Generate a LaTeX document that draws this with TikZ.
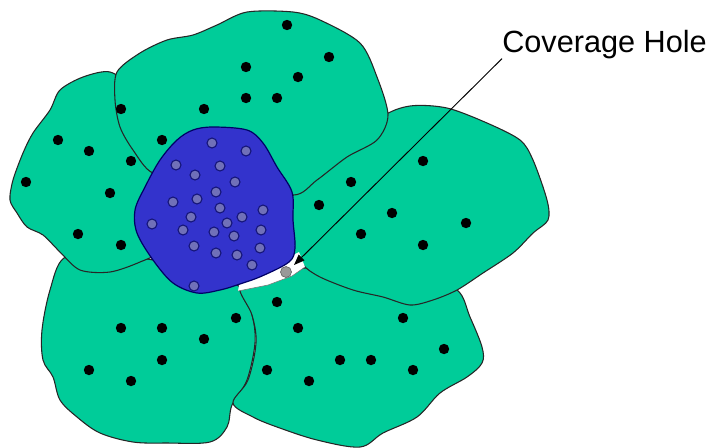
\documentclass[tikz,border=0pt]{standalone}
\usepackage{fontspec}
\setmainfont{Liberation Sans}
\usetikzlibrary{arrows.meta}
\definecolor{petal}{RGB}{0,204,153}
\definecolor{blob}{RGB}{51,51,204}
\definecolor{sensorin}{RGB}{112,112,184}
\definecolor{sensorline}{RGB}{20,20,120}
\tikzset{
  petalshape/.style={fill=petal, draw=black!85, line width=0.8pt, line join=round},
  blobshape/.style={fill=blob, draw=black!60!blue, line width=0.9pt},
  node dot/.style={fill=black},
  inner sensor/.style={fill=sensorin, draw=sensorline, line width=0.8pt},
}
\begin{document}
\begin{tikzpicture}[x=0.75pt,y=-0.75pt]
\useasboundingbox (0,0) rectangle (712,447);
% bottom-left petal
\draw[petalshape] plot[smooth cycle, tension=0.55] coordinates {
 (64,258) (50,290) (42,330) (43,360) (53,377) (60,400) (77,417) (100,433) (133,442) (167,443) (210,442) (227,427) (232,405)
 (247,380) (255,343) (252,315) (240,287) (190,268) (140,258) (100,256)};
% bottom-right petal
\draw[petalshape] plot[smooth cycle, tension=0.55] coordinates {
 (240,287) (252,315) (256,343) (248,380) (233,403) (253,417) (277,427) (317,440) (360,447) (383,433) (417,417) (440,393)
 (467,377) (482,363) (482,347) (470,317) (457,290) (420,280) (360,268) (305,268) (270,282)};
% right petal
\draw[petalshape] plot[smooth cycle, tension=0.5] coordinates {
 (410,106) (447,108) (487,123) (520,140) (533,160) (547,200) (548,220) (533,233) (513,253) (483,273) (457,290) (433,300)
 (410,305) (383,297) (353,290) (320,277) (302,264) (288,240) (290,200) (330,160) (380,118)};
% left petal
\draw[petalshape] plot[smooth cycle, tension=0.5] coordinates {
 (110,72) (83,77) (60,90) (50,110) (33,133) (23,153) (13,180) (10,200) (17,213) (27,227) (43,235) (60,252) (80,270)
 (110,272) (140,262) (160,250) (175,210) (155,150) (130,90)};
% top petal
\draw[petalshape] plot[smooth cycle, tension=0.5] coordinates {
 (117,72) (140,53) (167,40) (193,35) (217,25) (247,12) (293,12) (320,20) (360,43) (377,77) (388,115) (377,140) (347,157)
 (317,180) (293,195) (240,178) (190,172) (153,173) (133,150) (120,127) (115,100)};
% coverage hole
\fill[white] (238,291) -- (268,285) -- (292,276) -- (305,267) -- (299,252) -- (280,262) -- (240,280) -- cycle;
\draw[black!55, line width=0.4pt] (238,291) -- (268,285) -- (292,276) -- (305,267);
% central blob
\draw[blobshape] plot[smooth cycle, tension=0.55] coordinates {
 (213,127) (247,130) (263,143) (277,167) (292,192) (293,220) (295,248) (289,262) (262,276) (240,284) (220,290) (197,293)
 (173,283) (153,260) (137,233) (135,210) (145,187) (160,160) (177,140) (193,130)};
% sensors in the green petals
\foreach \p in {(287,25),(329,57),(246,67),(298,77),(246,98),(277,98),(121,109),(204,109),(58,140),(89,151),(162,140),
 (131,161),(26,182),(110,193),(78,234),(121,245),(351,182),(319,205),(423,161),(392,213),(466,223),(361,234),(423,245),
 (277,302),(236,318),(121,328),(162,328),(204,339),(162,360),(89,370),(131,381),(298,328),(403,318),(267,370),(340,360),
 (371,360),(413,370),(444,349),(309,381)}
  \fill[node dot] \p circle (5.2);
% sensors in the blob
\foreach \p in {(212,143),(246,151),(176,165),(220,166),(195,175),(235,182),(216,192),(173,202),(197,199),(220,208),
 (263,210),(191,217),(242,217),(227,223),(152,224),(183,230),(214,232),(261,230),(234,236),(194,246),(260,248),
 (216,253),(237,255),(252,265),(194,286)}
  \draw[inner sensor] \p circle (5);
% gray sensor at hole
\draw[fill=gray!80, draw=black!60, line width=0.5pt] (286,272) circle (5.5);
% label and leader
\node[anchor=base west, inner sep=0pt, font=\fontsize{23}{27}\selectfont] (label) at (502,52) {Coverage Hole};
\coordinate (hole) at (294,265);
\draw[line width=0.7pt, -{Triangle[length=8pt,width=6pt]}] (label.south west) -- (hole);
\end{tikzpicture}
\end{document}
